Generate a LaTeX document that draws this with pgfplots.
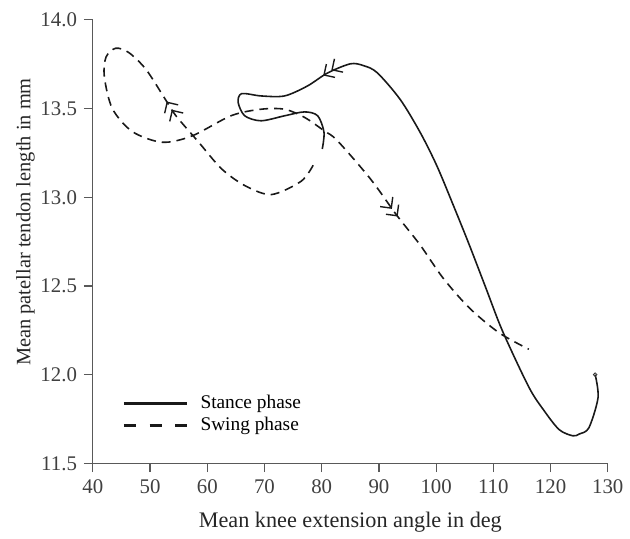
\documentclass[border=0pt]{standalone}
\usepackage{fontspec}
\setmainfont{Liberation Serif}
\usepackage{pgfplots}
\pgfplotsset{compat=1.18}
\usetikzlibrary{arrows.meta,decorations.markings}

% double open chevron used on the curves
\def\chev{\arrow[solid,line width=0.7pt]{Straight Barb[length=4pt,width=8pt] Straight Barb[length=4pt,width=8pt]}}

\begin{document}
\begin{tikzpicture}
\begin{axis}[
  scale only axis, width=259.5pt, height=223.5pt,
  xmin=40, xmax=130, ymin=11.5, ymax=14,
  xtick={40,50,...,130}, ytick={11.5,12,12.5,13,13.5,14},
  axis x line*=bottom, axis y line*=left,
  axis line style={draw=black!65, line width=0.6pt},
  tick style={draw=black!65, line width=0.6pt},
  tick align=outside, major tick length=4.5pt,
  yticklabel style={/pgf/number format/.cd, fixed, fixed zerofill, precision=1},
  /pgf/number format/assume math mode=true,
  ticklabel style={font=\fontsize{10.5}{12}\selectfont, text=black!75},
  xlabel={Mean knee extension angle in deg},
  ylabel={Mean patellar tendon length in mm},
  xlabel style={font=\fontsize{11.2}{13}\selectfont, text=black!85, yshift=-2.5pt},
  ylabel style={font=\fontsize{10.3}{12}\selectfont, text=black!85, at={(ticklabel cs:0.544)}, yshift=-4pt},
  legend style={at={(0.053,0.168)}, anchor=north west, draw=none, fill=none,
    font=\fontsize{9.75}{11}\selectfont, row sep=-1pt, inner sep=1pt},
  legend cell align=left,
  legend image code/.code={\draw[#1] (0pt,0pt) -- (32pt,0pt); \path (36pt,0pt);},
]
\addlegendimage{black!90, line width=1.3pt}
\addlegendentry{Stance phase}
\addlegendimage{black!90, line width=1.3pt, dash pattern=on 6pt off 7pt}
\addlegendentry{Swing phase}

% stance phase
\addplot[forget plot, smooth, black!90, line width=0.8pt,
  postaction={decorate}, decoration={markings, mark=at position 0.712 with {\chev}}] coordinates {
(127.8,12.00) (128.3,11.87) (126.7,11.70) (125.0,11.665) (123.9,11.655)
(121.5,11.69) (118.8,11.80) (116.2,11.93) (111.6,12.246) (108.7,12.488)
(105.8,12.731) (103.0,12.955) (100.1,13.179) (97.2,13.366) (93.7,13.552)
(89.7,13.702) (87.3,13.742) (85.0,13.752) (81.0,13.70) (77.5,13.627) (73.5,13.571)
(69.4,13.571) (66.0,13.584) (65.4,13.534) (66.55,13.459) (69.4,13.431)
(73.5,13.459) (77.0,13.481) (79.3,13.459) (80.4,13.366) (80.1,13.272)
};
% small circle at the start of stance
\addplot[forget plot, only marks, mark=o, mark size=0.9pt, black!80, line width=0.4pt] coordinates {(127.8,12.00)};

% swing phase
\addplot[forget plot, smooth, black!90, line width=0.8pt, dash pattern=on 4.5pt off 3pt,
  postaction={decorate}, decoration={markings,
    mark=at position 0.224 with {\chev}, mark=at position 0.785 with {\chev}}] coordinates {
(78.5,13.18) (76.4,13.09) (71.2,13.015) (66.6,13.065) (62.5,13.16)
(58.5,13.31) (54.5,13.46) (52.7,13.55) (49.3,13.72) (46.3,13.815)
(44.0,13.84) (42.3,13.79) (42.0,13.68) (43.4,13.50) (46.9,13.37)
(52.1,13.31) (57.3,13.345) (64.2,13.46) (69.4,13.496) (73.5,13.496)
(77.0,13.45) (80.4,13.375) (82.7,13.32) (88.5,13.104) (93.1,12.899)
(97.2,12.731) (101.2,12.545) (105.8,12.376) (111.0,12.236) (116.2,12.143)
};
\end{axis}
\path (current axis.south west) ++(-46.8pt,-33.5pt) coordinate (bl);
\path (current axis.north east) ++(9pt,10pt) coordinate (tr);
\path (bl) rectangle (tr);
\end{tikzpicture}
\end{document}
